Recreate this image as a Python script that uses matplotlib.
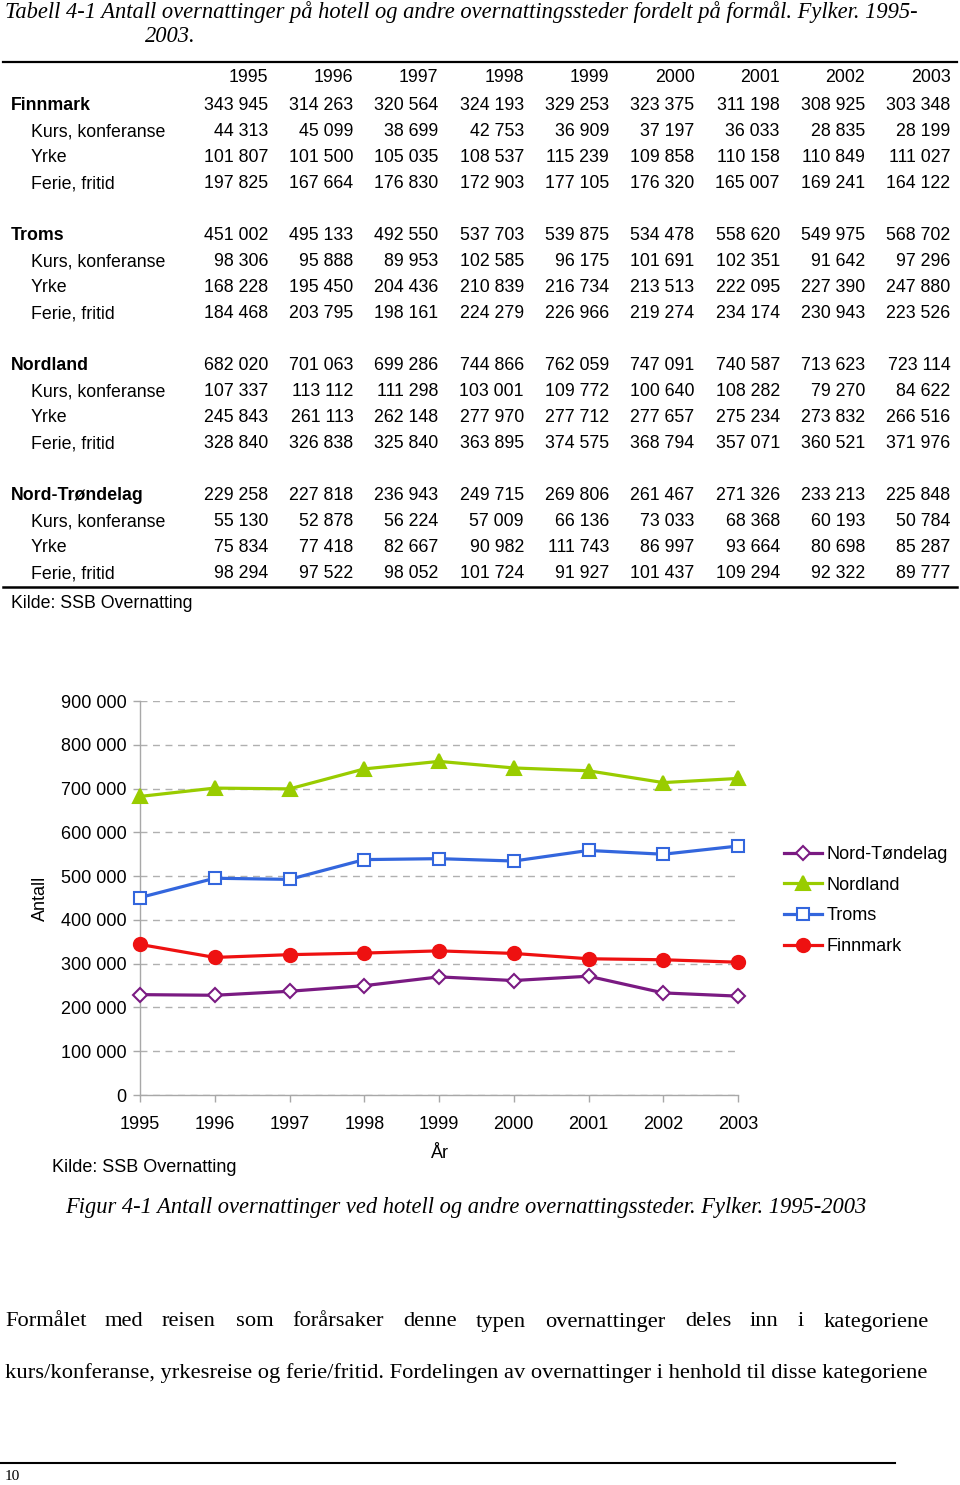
import matplotlib
matplotlib.use('Agg')
import matplotlib.pyplot as plt
from matplotlib.lines import Line2D
from matplotlib.ticker import FuncFormatter

W, H = 960, 1485

years = [1995, 1996, 1997, 1998, 1999, 2000, 2001, 2002, 2003]
regions = ['Finnmark', 'Troms', 'Nordland', 'Nord-Trøndelag']
categories = ['Kurs, konferanse', 'Yrke', 'Ferie, fritid']

finnmark = [343945, 314263, 320564, 324193, 329253, 323375, 311198, 308925, 303348]
finnmark_kurs = [44313, 45099, 38699, 42753, 36909, 37197, 36033, 28835, 28199]
finnmark_yrke = [101807, 101500, 105035, 108537, 115239, 109858, 110158, 110849, 111027]
finnmark_ferie = [197825, 167664, 176830, 172903, 177105, 176320, 165007, 169241, 164122]

troms = [451002, 495133, 492550, 537703, 539875, 534478, 558620, 549975, 568702]
troms_kurs = [98306, 95888, 89953, 102585, 96175, 101691, 102351, 91642, 97296]
troms_yrke = [168228, 195450, 204436, 210839, 216734, 213513, 222095, 227390, 247880]
troms_ferie = [184468, 203795, 198161, 224279, 226966, 219274, 234174, 230943, 223526]

nordland = [682020, 701063, 699286, 744866, 762059, 747091, 740587, 713623, 723114]
nordland_kurs = [107337, 113112, 111298, 103001, 109772, 100640, 108282, 79270, 84622]
nordland_yrke = [245843, 261113, 262148, 277970, 277712, 277657, 275234, 273832, 266516]
nordland_ferie = [328840, 326838, 325840, 363895, 374575, 368794, 357071, 360521, 371976]

ntrond = [229258, 227818, 236943, 249715, 269806, 261467, 271326, 233213, 225848]
ntrond_kurs = [55130, 52878, 56224, 57009, 66136, 73033, 68368, 60193, 50784]
ntrond_yrke = [75834, 77418, 82667, 90982, 111743, 86997, 93664, 80698, 85287]
ntrond_ferie = [98294, 97522, 98052, 101724, 91927, 101437, 109294, 92322, 89777]

table = [
    (finnmark, finnmark_kurs, finnmark_yrke, finnmark_ferie),
    (troms, troms_kurs, troms_yrke, troms_ferie),
    (nordland, nordland_kurs, nordland_yrke, nordland_ferie),
    (ntrond, ntrond_kurs, ntrond_yrke, ntrond_ferie),
]

body1 = ['Formålet', 'med', 'reisen', 'som', 'forårsaker', 'denne', 'typen',
         'overnattinger', 'deles', 'inn', 'i', 'kategoriene']
body1_x = [5, 105, 162, 236, 292, 403, 476, 545, 685, 750, 798, 824]
body2 = ('kurs/konferanse, yrkesreise og ferie/fritid. Fordelingen av '
         'overnattinger i henhold til disse kategoriene')


def fmt(v):
    return '{:,}'.format(int(v)).replace(',', ' ')


def px(x, y):
    return x / W, 1 - y / H


fig = plt.figure(figsize=(9.6, 14.85), dpi=100)
renderer = fig.canvas.get_renderer()

SANS = 'Liberation Sans'
SERIF = 'Liberation Serif'


def text(x, y, s, **kw):
    kw.setdefault('family', SANS)
    kw.setdefault('va', 'center')
    return fig.text(*px(x, y), s, transform=fig.transFigure, **kw)


def fit_text(x, y, s, width, **kw):
    t = text(x, y, s, fontsize=14, **kw)
    w = t.get_window_extent(renderer).width
    t.set_fontsize(14 * width / w)
    return t


def hline(x0, x1, y, lw):
    fig.add_artist(Line2D([x0 / W, x1 / W], [1 - y / H, 1 - y / H],
                          transform=fig.transFigure, color='black', lw=lw))


# title
tt = fit_text(5, 12, 'Tabell 4-1 Antall overnattinger på hotell og andre overnattingssteder '
              'fordelt på formål. Fylker. 1995-', 915, family=SERIF, style='italic')
text(145, 36, '2003.', family=SERIF, style='italic', fontsize=tt.get_fontsize())

# table
FS = 12.8
col_x = [268 + i * 85.3 for i in range(len(years))]
hline(3, 957, 62, 1.6)
for x, yr in zip(col_x, years):
    text(x, 78, str(yr), ha='right', fontsize=FS)

row_y = 105.5
for name, rows in zip(regions, table):
    labels = [name] + categories
    for j, (lab, vals) in enumerate(zip(labels, rows)):
        y = row_y + j * 26.1
        if j == 0:
            text(11, y, lab, fontsize=FS, weight='bold')
        else:
            text(31, y, lab, fontsize=FS)
        for x, v in zip(col_x, vals):
            text(x, y, fmt(v), ha='right', fontsize=FS)
    row_y += 130
hline(3, 957, 587, 1.8)
text(11, 604, 'Kilde: SSB Overnatting', fontsize=FS)

# chart
ax = fig.add_axes([140 / W, 390 / H, 598 / W, 394 / H])
series = [
    ('Nord-Tøndelag', ntrond, '#7a1a82', 'D', 7.5, 'white'),
    ('Nordland', nordland, '#99cc00', '^', 10, '#99cc00'),
    ('Troms', troms, '#3366dd', 's', 8.5, 'white'),
    ('Finnmark', finnmark, '#ee1111', 'o', 9.5, '#ee1111'),
]
handles = []
for lab, vals, col, mk, ms, fc in series:
    h, = ax.plot(years, vals, color=col, lw=2.3, marker=mk, ms=ms,
                 mfc=fc, mec=col, mew=1.5, clip_on=False, label=lab, zorder=3)
    handles.append(h)

ax.set_xlim(1995, 2003)
ax.set_ylim(0, 900000)
ax.set_xticks(years)
ax.set_yticks(range(0, 900001, 100000))
ax.yaxis.set_major_formatter(FuncFormatter(lambda v, p: fmt(v)))
for s in ['top', 'right']:
    ax.spines[s].set_visible(False)
for s in ['left', 'bottom']:
    ax.spines[s].set_color('#a8a8a8')
    ax.spines[s].set_linewidth(1)
ax.tick_params(axis='both', colors='#a8a8a8', labelcolor='black', labelsize=13,
               length=5, width=1)
ax.tick_params(axis='y', pad=4.5)
ax.tick_params(axis='x', pad=10)
for lab in ax.get_xticklabels() + ax.get_yticklabels():
    lab.set_family(SANS)
ax.grid(axis='y', color='#b0b0b0', ls=(0, (5, 4)), lw=1)
ax.set_axisbelow(True)

fig.legend(handles=handles, loc='upper left', bbox_to_anchor=px(777, 839),
           frameon=False, prop={'family': SANS, 'size': 13}, handlelength=2.1,
           handletextpad=0.25, labelspacing=0.75, borderaxespad=0)

text(40, 898, 'Antall', fontsize=13, rotation=90, ha='center')
text(440, 1154, 'År', fontsize=13, ha='center')
text(52, 1167, 'Kilde: SSB Overnatting', fontsize=13)

# caption and body text
fit_text(65, 1207, 'Figur 4-1 Antall overnattinger ved hotell og andre '
         'overnattingssteder. Fylker. 1995-2003', 803, family=SERIF, style='italic')
t1 = fit_text(5, 1373, body2, 923, family=SERIF)
bfs = t1.get_fontsize()
for w, x in zip(body1, body1_x):
    text(x, 1322, w, family=SERIF, fontsize=bfs)

hline(0, 895, 1463, 1.5)
text(5, 1476, '10', family=SERIF, fontsize=11)

fig.savefig('out.png', dpi=100)
